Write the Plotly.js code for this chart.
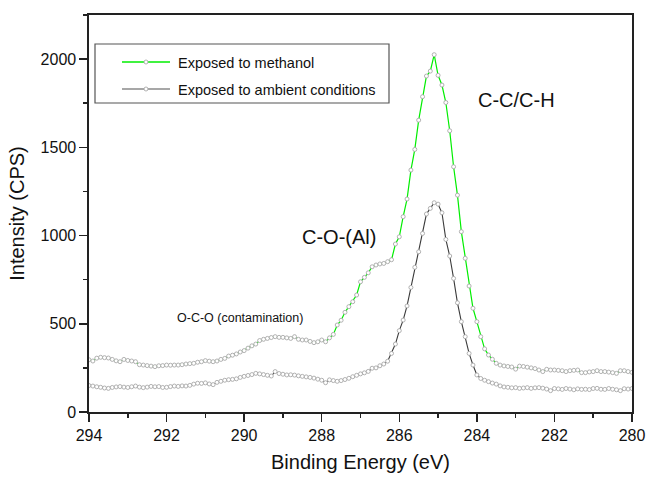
<!DOCTYPE html>
<html>
<head>
<meta charset="utf-8">
<script src="https://cdn.plot.ly/plotly-3.0.1.min.js"></script>
<style>html,body{margin:0;padding:0;background:#fff}#chart{width:650px;height:479px}</style>
</head>
<body>
<div id="chart"></div>
<script>
var energy = [294.0,293.9,293.8,293.7,293.6,293.5,293.4,293.3,293.2,293.1,
293.0,292.9,292.8,292.7,292.6,292.5,292.4,292.3,292.2,292.1,
292.0,291.9,291.8,291.7,291.6,291.5,291.4,291.3,291.2,291.1,
291.0,290.9,290.8,290.7,290.6,290.5,290.4,290.3,290.2,290.1,
290.0,289.9,289.8,289.7,289.6,289.5,289.4,289.3,289.2,289.1,
289.0,288.9,288.8,288.7,288.6,288.5,288.4,288.3,288.2,288.1,
288.0,287.9,287.8,287.7,287.6,287.5,287.4,287.3,287.2,287.1,
287.0,286.9,286.8,286.7,286.6,286.5,286.4,286.3,286.2,286.1,
286.0,285.9,285.8,285.7,285.6,285.5,285.4,285.3,285.2,285.1,
285.0,284.9,284.8,284.7,284.6,284.5,284.4,284.3,284.2,284.1,
284.0,283.9,283.8,283.7,283.6,283.5,283.4,283.3,283.2,283.1,
283.0,282.9,282.8,282.7,282.6,282.5,282.4,282.3,282.2,282.1,
282.0,281.9,281.8,281.7,281.6,281.5,281.4,281.3,281.2,281.1,
281.0,280.9,280.8,280.7,280.6,280.5,280.4,280.3,280.2,280.1,
280.0];

var methanol = [296,289,305,310,308,306,298,290,285,298,
292,289,285,268,266,263,260,257,262,263,
266,265,266,266,268,272,274,276,282,285,
291,288,285,289,298,304,317,322,329,340,
348,362,375,385,405,412,417,422,427,423,
423,420,417,427,412,408,408,400,393,398,
408,398,420,440,493,520,565,597,625,663,
738,763,789,823,833,839,842,852,863,952,
993,1107,1207,1371,1488,1654,1787,1904,1932,2025,
1908,1853,1754,1594,1390,1229,1022,871,714,588,
512,427,358,323,299,276,266,261,258,255,
243,260,258,254,250,246,238,229,242,238,
238,236,234,229,234,236,238,223,223,227,
229,234,229,229,226,223,219,234,234,229,
225];

var ambient = [150,147,143,140,136,134,139,142,144,141,
139,143,147,141,138,141,145,143,144,139,
140,144,147,145,148,147,151,158,163,162,
165,159,155,168,174,180,183,185,188,196,
202,207,212,219,216,212,208,204,229,218,
214,210,211,209,205,202,199,196,192,186,
180,166,182,178,174,178,184,191,200,208,
216,222,230,248,250,262,272,288,332,385,
461,521,601,706,820,908,1012,1122,1154,1186,
1178,1129,978,884,757,619,512,427,332,266,
210,190,180,172,164,158,148,142,140,137,
138,134,136,138,134,137,138,135,130,121,
133,131,128,133,130,126,131,128,129,127,
133,134,129,128,133,129,126,121,132,130,
133];

var seriesNames = ["Exposed to methanol", "Exposed to ambient conditions"];
var xTickVals = [294,292,290,288,286,284,282,280];
var yTickVals = [0,500,1000,1500,2000];

var FONT = "Liberation Sans, Arial, sans-serif";
var markerStyle = {symbol: "circle", size: 4, color: "#ffffff", line: {color: "#a8a8a8", width: 0.9}};

var traces = [
  {x: energy, y: ambient, type: "scatter", mode: "lines+markers", name: seriesNames[1],
   line: {color: "#3a3a3a", width: 1.1}, marker: markerStyle, showlegend: false},
  {x: energy, y: methanol, type: "scatter", mode: "lines+markers", name: seriesNames[0],
   line: {color: "#00ee00", width: 1.2}, marker: markerStyle, showlegend: false}
];

function px2x(p){ return (p - 89) / 543; }
function py2y(p){ return (412 - p) / 397; }

var shapes = [
  {type: "rect", xref: "paper", yref: "paper", x0: px2x(95), x1: px2x(389), y0: py2y(103), y1: py2y(44),
   line: {color: "#555555", width: 1.2}, fillcolor: "rgba(255,255,255,0)"},
  {type: "line", xref: "paper", yref: "paper", x0: px2x(122), x1: px2x(170), y0: py2y(62), y1: py2y(62),
   line: {color: "#00ee00", width: 1.5}},
  {type: "line", xref: "paper", yref: "paper", x0: px2x(122), x1: px2x(170), y0: py2y(89), y1: py2y(89),
   line: {color: "#8a8a8a", width: 1.5}},
  {type: "circle", xref: "paper", yref: "paper", xsizemode: "pixel", ysizemode: "pixel",
   xanchor: px2x(146), yanchor: py2y(62), x0: -2, x1: 2, y0: -2, y1: 2,
   line: {color: "#a8a8a8", width: 0.9}, fillcolor: "#ffffff"},
  {type: "circle", xref: "paper", yref: "paper", xsizemode: "pixel", ysizemode: "pixel",
   xanchor: px2x(146), yanchor: py2y(89), x0: -2, x1: 2, y0: -2, y1: 2,
   line: {color: "#a8a8a8", width: 0.9}, fillcolor: "#ffffff"}
];

var annotations = [
  {xref: "paper", yref: "paper", x: px2x(176), y: py2y(63), xanchor: "left", yanchor: "middle",
   text: seriesNames[0], showarrow: false, font: {family: FONT, size: 14.5, color: "#111"}},
  {xref: "paper", yref: "paper", x: px2x(176), y: py2y(90), xanchor: "left", yanchor: "middle",
   text: seriesNames[1], showarrow: false, font: {family: FONT, size: 14.5, color: "#111"}},
  {xref: "x", yref: "y", x: 282.98, y: 1768, text: "C-C/C-H", showarrow: false,
   font: {family: FONT, size: 20, color: "#111"}},
  {xref: "x", yref: "y", x: 287.55, y: 992, text: "C-O-(Al)", showarrow: false,
   font: {family: FONT, size: 20, color: "#111"}},
  {xref: "x", yref: "y", x: 290.1, y: 533, text: "O-C-O (contamination)", showarrow: false,
   font: {family: FONT, size: 12.5, color: "#111"}}
];

var layout = {
  width: 650, height: 479,
  margin: {l: 89, r: 18, t: 15, b: 67},
  paper_bgcolor: "#ffffff", plot_bgcolor: "#ffffff",
  font: {family: FONT, color: "#111"},
  showlegend: false,
  xaxis: {
    range: [294, 280], autorange: false,
    tickvals: xTickVals, ticktext: xTickVals.map(String),
    ticks: "outside", ticklen: 8, tickwidth: 1.5, tickcolor: "#222",
    minor: {dtick: 1, tick0: 280, ticks: "outside", ticklen: 4, tickwidth: 1.5, tickcolor: "#222", showgrid: false},
    showline: true, linewidth: 1.6, linecolor: "#222", mirror: true,
    showgrid: false, zeroline: false,
    tickfont: {family: FONT, size: 16, color: "#111"},
    title: {text: "Binding Energy (eV)", font: {family: FONT, size: 20, color: "#111"}, standoff: 12}
  },
  yaxis: {
    range: [0, 2250], autorange: false,
    tickvals: yTickVals, ticktext: yTickVals.map(String),
    ticks: "outside", ticklen: 8, tickwidth: 1.5, tickcolor: "#222",
    minor: {dtick: 250, tick0: 0, ticks: "outside", ticklen: 4, tickwidth: 1.5, tickcolor: "#222", showgrid: false},
    showline: true, linewidth: 1.6, linecolor: "#222", mirror: true,
    showgrid: false, zeroline: false,
    tickfont: {family: FONT, size: 16, color: "#111"},
    title: {text: "Intensity (CPS)", font: {family: FONT, size: 20, color: "#111"}, standoff: 10}
  },
  shapes: shapes,
  annotations: annotations
};

Plotly.newPlot("chart", traces, layout, {displayModeBar: false, staticPlot: true});
</script>
</body>
</html>
